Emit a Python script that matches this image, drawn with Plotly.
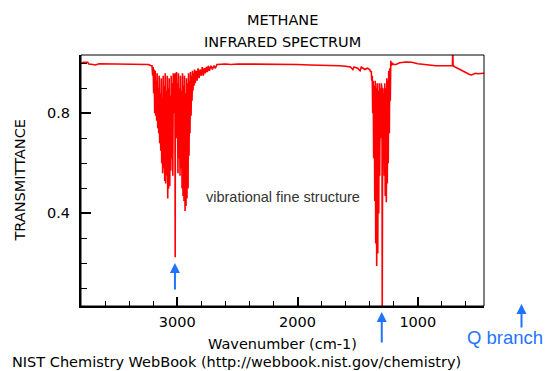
import plotly.graph_objects as go

# ---- spectrum data (wavenumber cm-1, transmittance) ----
left_wn = [3800, 3780, 3745, 3735, 3700, 3680, 3650, 3600, 3500, 3400, 3300, 3240, 3217]
left_T = [1.0, 1.004, 1.004, 0.997, 0.995, 0.993, 0.998, 0.998, 0.997, 0.997, 0.996, 0.995, 0.99]

band1_wn = [3210, 3204, 3200, 3196, 3192, 3187, 3183, 3179, 3175, 3171, 3167, 3162, 3158,
            3154, 3150, 3146, 3142, 3137, 3133, 3129, 3125, 3121, 3117, 3112, 3108, 3104,
            3100, 3096, 3092, 3087, 3083, 3079, 3075, 3071, 3067, 3062, 3058, 3054, 3050,
            3046, 3042, 3037, 3033, 3029, 3025, 3021, 3019, 3017, 3015, 3010, 3006, 3002,
            2998, 2994, 2990, 2985, 2981, 2977, 2973, 2969, 2965, 2960, 2956, 2952, 2948,
            2944, 2940, 2935, 2931, 2927, 2923, 2919, 2915, 2910, 2906, 2902, 2898, 2894,
            2890, 2885, 2881, 2877, 2873, 2869, 2865, 2860, 2856, 2850, 2843, 2835, 2827,
            2818, 2810, 2800, 2792, 2783, 2775, 2767, 2758, 2750, 2742, 2733, 2720, 2708,
            2695, 2683, 2670]
band1_T = [0.99, 0.95, 0.985, 0.88, 0.975, 0.80, 0.97, 0.79, 0.93, 0.77, 0.96, 0.74, 0.90,
           0.72, 0.95, 0.68, 0.88, 0.65, 0.94, 0.60, 0.86, 0.56, 0.95, 0.58, 0.91, 0.53,
           0.96, 0.52, 0.89, 0.55, 0.95, 0.46, 0.90, 0.50, 0.94, 0.51, 0.87, 0.57, 0.95,
           0.62, 0.92, 0.55, 0.96, 0.80, 0.94, 0.92, 0.96, 0.225, 0.95, 0.90, 0.965, 0.70,
           0.92, 0.56, 0.96, 0.62, 0.90, 0.55, 0.95, 0.58, 0.89, 0.50, 0.96, 0.47, 0.91,
           0.45, 0.95, 0.41, 0.88, 0.43, 0.94, 0.46, 0.92, 0.50, 0.96, 0.63, 0.93, 0.72,
           0.965, 0.79, 0.95, 0.85, 0.97, 0.89, 0.96, 0.91, 0.975, 0.92, 0.97, 0.93, 0.98,
           0.94, 0.975, 0.95, 0.985, 0.95, 0.98, 0.96, 0.985, 0.965, 0.99, 0.97, 0.99, 0.975,
           0.99, 0.98, 0.995]

mid_wn = [2600, 2550, 2500, 2400, 2300, 2200, 2100, 2000, 1900, 1800, 1700, 1650, 1600,
          1560, 1540, 1530, 1500, 1480, 1470, 1440, 1420]
mid_T = [0.997, 0.995, 0.997, 0.997, 0.996, 0.996, 0.995, 0.995, 0.993, 0.993, 0.992, 0.99,
         0.988, 0.985, 0.975, 0.985, 0.98, 0.97, 0.985, 0.975, 0.98]

band2_wn = [1400, 1392, 1387, 1383, 1379, 1375, 1371, 1367, 1362, 1358, 1354, 1350, 1346,
            1342, 1338, 1333, 1329, 1325, 1321, 1317, 1313, 1308, 1304, 1298, 1296, 1294,
            1292, 1290, 1287, 1283, 1279, 1275, 1271, 1267, 1262, 1258, 1254, 1250, 1246,
            1242, 1237, 1233, 1229, 1225, 1220, 1212, 1200]
band2_T = [0.975, 0.965, 0.97, 0.93, 0.95, 0.80, 0.93, 0.62, 0.91, 0.45, 0.93, 0.28, 0.90,
           0.19, 0.92, 0.24, 0.89, 0.40, 0.92, 0.55, 0.90, 0.70, 0.92, 0.90, 0.0, 0.90,
           0.89, 0.90, 0.62, 0.88, 0.55, 0.92, 0.47, 0.90, 0.445, 0.94, 0.52, 0.93, 0.60,
           0.97, 0.72, 0.98, 0.85, 1.01, 0.99, 1.0, 0.995]

right_wn = [1183, 1150, 1100, 1050, 1000, 950, 900, 850, 800, 750, 725, 712, 710, 707,
            690, 670, 650, 630, 610, 590, 570, 555, 540, 520, 500, 480, 460, 450]
right_T = [0.995, 1.002, 1.005, 1.004, 0.998, 0.995, 0.992, 0.99, 0.99, 0.99, 0.99, 0.99,
           1.06, 0.99, 0.985, 0.98, 0.973, 0.97, 0.965, 0.96, 0.955, 0.953, 0.955, 0.96,
           0.958, 0.96, 0.962, 0.96]

wavenumber = left_wn + band1_wn + mid_wn + band2_wn + right_wn
transmittance = left_T + band1_T + mid_T + band2_T + right_T

x_ticks = [1000, 2000, 3000]
y_ticks = [0.4, 0.8]

BITMAP = "DejaVu Sans"
SANS = "Liberation Sans"
BLUE = "#1f74ff"

fig = go.Figure()
fig.add_trace(go.Scatter(x=wavenumber, y=transmittance, mode="lines",
                         line=dict(color="#ff0000", width=1.6), hoverinfo="skip"))

fig.update_layout(
    width=548, height=371,
    margin=dict(l=81, r=64, t=55, b=65),
    paper_bgcolor="white", plot_bgcolor="white",
    showlegend=False,
    xaxis=dict(range=[3800, 450], tickvals=x_ticks, showgrid=False, zeroline=False,
               showline=True, linecolor="black", linewidth=2,
               ticks="inside", ticklen=9, tickwidth=1.5, tickcolor="black",
               tickfont=dict(family=BITMAP, size=14.5, color="black"),
               ticklabelstandoff=2,
               minor=dict(dtick=200, tick0=0, ticks="inside", ticklen=5, tickwidth=1.2,
                          tickcolor="black", showgrid=False)),
    yaxis=dict(range=[0.03, 1.033], tickvals=y_ticks, showgrid=False, zeroline=False,
               showline=True, linecolor="black", linewidth=2,
               ticks="inside", ticklen=10, tickwidth=1.5, tickcolor="black",
               tickfont=dict(family=BITMAP, size=14.5, color="black"),
               tickformat=".1f", ticklabelstandoff=6,
               minor=dict(dtick=0.1, tick0=0, ticks="inside", ticklen=6, tickwidth=1.2,
                          tickcolor="black", showgrid=False)),
    shapes=[dict(type="rect", xref="paper", yref="paper", x0=0, x1=1, y0=0, y1=1,
                 line=dict(color="black", width=1), fillcolor="rgba(0,0,0,0)", layer="above")],
)

H = 251.0  # plot height in px
W = 403.0  # plot width in px

def py(pix):
    return (306 - pix) / H

def px(pix):
    return (pix - 81) / W

ann = [
    dict(text="METHANE", x=0.5, y=py(20), font=dict(family=BITMAP, size=14.5, color="black")),
    dict(text="INFRARED SPECTRUM", x=0.5, y=py(41.5), font=dict(family=BITMAP, size=14.5, color="black")),
    dict(text="Wavenumber (cm-1)", x=0.5, y=py(344), font=dict(family=BITMAP, size=14.5, color="black")),
    dict(text="NIST Chemistry WebBook (http://webbook.nist.gov/chemistry)", x=px(10), y=py(362),
         xanchor="left", font=dict(family=BITMAP, size=14.5, color="black")),
    dict(text="TRANSMITTANCE", x=px(19), y=0.5, textangle=-90,
         font=dict(family=BITMAP, size=14.5, color="black")),
    dict(text="vibrational fine structure", x=px(204), y=py(197), xanchor="left",
         font=dict(family=SANS, size=14.5, color="#333333")),
    dict(text="Q branch", x=px(465), y=py(337), xanchor="left",
         font=dict(family=SANS, size=18.5, color=BLUE)),
]
for a in ann:
    a.setdefault("xanchor", "center")
    a.update(xref="paper", yref="paper", showarrow=False, yanchor="middle")

arrows = [
    dict(x=3019, xref="x", y=py(263), ay=28),
    dict(x=1300, xref="x", y=py(312), ay=32),
    dict(x=px(521.5), xref="paper", y=py(304), ay=25),
]
for a in arrows:
    a.update(yref="paper", text="", showarrow=True, ax=0, arrowhead=2, arrowsize=1,
             arrowwidth=2, arrowcolor=BLUE)

fig.update_layout(annotations=ann + arrows)
fig.write_html("out.html")
